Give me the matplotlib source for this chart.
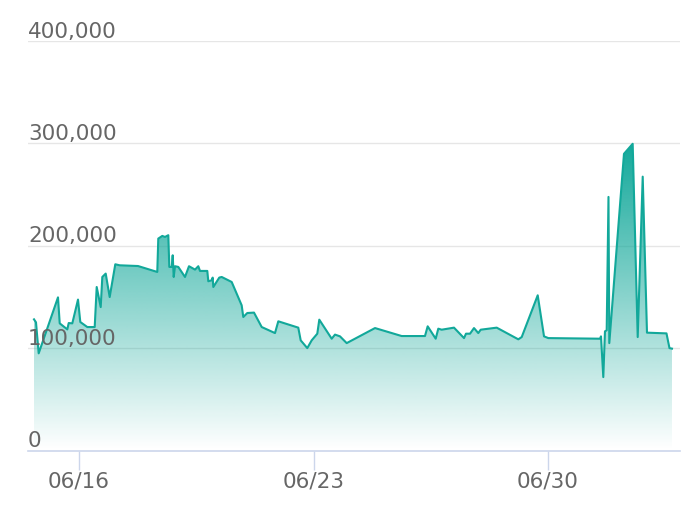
import numpy as np
import pandas as pd
import matplotlib
matplotlib.use("Agg")
import matplotlib.pyplot as plt
import matplotlib.dates as mdates
from matplotlib.colors import to_rgb

# timestamps and values
times = [
    "06-14 15:46", "06-14 17:11", "06-14 19:07", "06-15 08:57", "06-15 10:11",
    "06-15 15:37", "06-15 16:38", "06-15 19:12", "06-15 23:17", "06-16 00:56",
    "06-16 05:57", "06-16 11:15", "06-16 12:41", "06-16 15:33", "06-16 16:42",
    "06-16 19:08", "06-16 21:59", "06-17 02:00", "06-17 05:10", "06-17 18:16",
    "06-18 08:05", "06-18 08:48", "06-18 11:40", "06-18 13:36", "06-18 15:59",
    "06-18 16:42", "06-18 18:25", "06-18 19:08", "06-18 19:51", "06-18 20:47",
    "06-18 23:09", "06-19 03:56", "06-19 06:48", "06-19 11:07", "06-19 13:28",
    "06-19 14:41", "06-19 19:55", "06-19 20:38", "06-19 23:04", "06-19 23:47",
    "06-20 00:13", "06-20 04:30", "06-20 06:14", "06-20 13:24", "06-20 20:33",
    "06-20 21:42", "06-21 00:34", "06-21 05:22", "06-21 10:54", "06-21 20:25",
    "06-21 22:47", "06-22 13:06", "06-22 14:50", "06-22 19:33", "06-22 22:42",
    "06-23 02:43", "06-23 04:09", "06-23 13:02", "06-23 15:24", "06-23 18:59",
    "06-23 23:47", "06-24 20:04", "06-25 15:11", "06-26 07:52", "06-26 09:48",
    "06-26 15:33", "06-26 17:24", "06-26 19:50", "06-27 04:39", "06-27 11:50",
    "06-27 13:15", "06-27 16:08", "06-27 18:59", "06-27 22:03", "06-27 23:47",
    "06-28 11:15", "06-29 02:43", "06-29 05:10", "06-29 16:38", "06-29 21:09",
    "06-30 00:13", "07-01 13:15", "07-01 13:58", "07-01 15:37", "07-01 16:49",
    "07-01 18:03", "07-01 19:20", "07-01 19:55", "07-02 06:26", "07-02 12:40",
    "07-02 16:16", "07-02 19:51", "07-02 22:55", "07-03 12:53", "07-03 15:02",
    "07-03 16:49",
]
values = [
    128100, 125200, 94900, 149600, 124200,
    118300, 124500, 124200, 147400, 125500,
    120600, 120600, 159700, 140100, 169500,
    172800, 149900, 181900, 180900, 180200,
    174400, 207000, 209600, 208600, 210300,
    179300, 179300, 190700, 169500, 180000,
    179300, 169500, 180000, 176700, 180000,
    175400, 175400, 165300, 166300, 168900,
    159700, 168900, 169500, 164600, 141800,
    130400, 134300, 134700, 120600, 114700,
    126200, 120000, 107600, 100000, 107600,
    114100, 127800, 109200, 113200, 111500,
    104900, 119600, 111800, 111800, 121300,
    109200, 119000, 118000, 120000, 109800,
    114100, 114100, 119600, 114700, 118000,
    120000, 108600, 110800, 151600, 111500,
    109800, 109200, 111500, 71700, 116400,
    117400, 247700, 104900, 289800, 299600,
    110800, 267500, 115100, 114400, 100000,
    99500,
]
y_ticks = [0, 100000, 200000, 300000, 400000]
x_ticks = ["06-16", "06-23", "06-30"]

line_color = "#12a89a"
grid_color = "#e6e6e6"
axis_color = "#ccd6eb"
label_color = "#666666"

x = mdates.date2num(pd.to_datetime(["2023-" + t for t in times]))
y = np.array(values, dtype=float)

fig = plt.figure(figsize=(6.94, 5.22), dpi=100)
W, H = 694, 522
left, right, top, bottom = 28, 680, 41, 450.5
ax = fig.add_axes([left / W, (H - bottom) / H, (right - left) / W, (bottom - top) / H])

# x range: one date unit = 33.5 px, 06/16 sits at px 79
day0 = mdates.date2num(pd.Timestamp("2023-06-16"))
ax.set_xlim(day0 + (left - 79) / 33.5, day0 + (right - 79) / 33.5)
ax.set_ylim(0, 400000)

# gridlines behind the fill
for v in y_ticks[1:]:
    ax.axhline(v, color=grid_color, lw=1, zorder=0)

# gradient fill clipped to the area under the line
poly = ax.fill_between(x, 0, y, color="none", lw=0)
rgb = to_rgb(line_color)
n = 256
grad = np.zeros((n, 1, 4))
grad[:, 0, :3] = rgb
grad[:, 0, 3] = np.linspace(1, 0, n)
img = ax.imshow(grad, aspect="auto", extent=[x.min(), x.max(), 0, y.max()],
                origin="upper", zorder=1, interpolation="bilinear")
img.set_clip_path(poly.get_paths()[0], transform=ax.transData)
ax.set_xlim(day0 + (left - 79) / 33.5, day0 + (right - 79) / 33.5)
ax.set_ylim(0, 400000)

ax.plot(x, y, color=line_color, lw=1.5, zorder=3)

# y labels sit above their gridlines, left aligned
for v in y_ticks:
    ax.annotate(f"{v:,}", xy=(0, v), xycoords=("axes fraction", "data"),
                xytext=(0, 2.5), textcoords="offset points",
                ha="left", va="baseline", fontsize=15.5, color=label_color)
ax.set_yticks([])

ax.set_xticks(mdates.date2num(pd.to_datetime(["2023-" + t for t in x_ticks])))
ax.set_xticklabels([t.replace("-", "/") for t in x_ticks])
ax.tick_params(axis="x", length=14, width=1, color=axis_color, pad=1,
               labelsize=15.5, labelcolor=label_color)

for s in ["left", "right", "top"]:
    ax.spines[s].set_visible(False)
ax.spines["bottom"].set_color(axis_color)
ax.spines["bottom"].set_linewidth(1.2)
ax.set_facecolor("none")

fig.savefig("out.png", dpi=100)
